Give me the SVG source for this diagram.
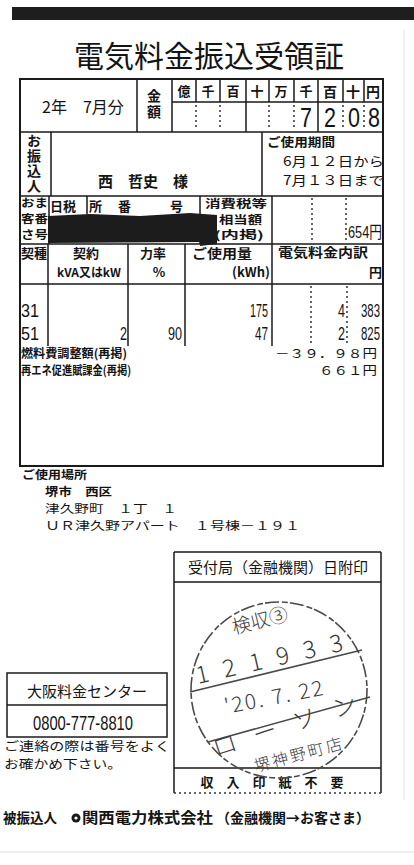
<svg xmlns="http://www.w3.org/2000/svg" width="414" height="865" viewBox="0 0 414 865">
<style>
.ln{stroke:#1a1a1a;stroke-width:1.5;fill:none}
.bd{stroke:#1a1a1a;stroke-width:2;fill:none}
.dt{stroke:#333;stroke-width:1.5;stroke-dasharray:2 3;fill:none}
.jp{font-family:"Noto Sans CJK JP","Noto Sans",sans-serif;fill:#141414}
.b{font-weight:700}
.num{font-family:"Liberation Sans","Noto Sans CJK JP",sans-serif;fill:#141414}
.vt{writing-mode:vertical-rl}
.st{fill:none;stroke:#4a4a4a;stroke-width:1.6}
.stt{font-family:"Noto Sans CJK JP",sans-serif;fill:#3a3a3a;font-weight:300}
</style>
<rect width="414" height="865" fill="#fff"/>
<g id="header">
<rect x="12" y="7" width="402" height="13" fill="#1e1e1e"/>
<text class="jp" x="209" y="67" font-size="30" text-anchor="middle">電気料金振込受領証</text>
</g>
<g id="table">
<rect class="bd" x="20" y="79" width="363" height="387"/>
<g class="ln">
<path d="M137 79V132M172 79V132M172 102H383M20 132H383M20 196H383M20 244H383M20 284H383"/>
<path d="M196 79V102M220 79V102M246 79V132M269 79V102M294 79V102M318 79V132M343 79V102M364 79V102"/>
<path d="M51 132V196M262 132V196M49 196V244M87 196V214M200 196V244M272 196V346M48 244V346M128 244V346M185 244V346"/>
</g>
<g class="dt">
<path d="M196 105V130M220 105V130M269 105V130M294 105V130M343 105V130M364 105V130"/>
<path d="M312 198V242M346 198V242M311 286V346M347 286V346"/>
</g>
<text class="jp" x="42" y="113" font-size="16">2年　7月分</text>
<text class="jp b vt" x="154" y="89" font-size="14" letter-spacing="1.5">金額</text>
<g class="jp b" font-size="13" text-anchor="middle">
<text x="184" y="96">億</text><text x="208" y="96">千</text><text x="233" y="96">百</text><text x="257" y="96">十</text><text x="281" y="96">万</text><text x="306" y="96">千</text>
<text x="330" y="97" font-size="14">百</text><text x="353" y="97" font-size="14">十</text><text x="373" y="97" font-size="14">円</text>
</g>
<g class="num" font-size="27" text-anchor="middle">
<text x="306" y="127" textLength="12" lengthAdjust="spacingAndGlyphs">7</text>
<text x="330" y="127" textLength="12" lengthAdjust="spacingAndGlyphs">2</text>
<text x="354" y="127" textLength="12" lengthAdjust="spacingAndGlyphs">0</text>
<text x="374" y="127" textLength="12" lengthAdjust="spacingAndGlyphs">8</text>
</g>
<text class="jp b vt" x="34" y="134" font-size="14" letter-spacing="1">お振込人</text>
<text class="jp b" x="98" y="187" font-size="15">西　哲史　様</text>
<text class="jp b" x="267" y="147" font-size="12.5" textLength="68" lengthAdjust="spacingAndGlyphs">ご使用期間</text>
<text class="jp" x="283" y="166" font-size="13" textLength="101" lengthAdjust="spacingAndGlyphs">6月１２日から</text>
<text class="jp" x="283" y="185" font-size="13" textLength="101" lengthAdjust="spacingAndGlyphs">7月１３日まで</text>
<g class="jp b" font-size="11">
<text x="21" y="207" textLength="27" lengthAdjust="spacingAndGlyphs">おま</text>
<text x="21" y="223" textLength="27" lengthAdjust="spacingAndGlyphs">客番</text>
<text x="21" y="239" textLength="27" lengthAdjust="spacingAndGlyphs">さ号</text>
<text x="50" y="211" font-size="13">日税</text><text x="89" y="211" font-size="13">所</text><text x="118" y="211" font-size="13">番</text><text x="170" y="211" font-size="13">号</text>
<text x="205" y="208" textLength="62" lengthAdjust="spacingAndGlyphs">消費税等</text>
<text x="219" y="224" textLength="43" lengthAdjust="spacingAndGlyphs">相当額</text>
<text x="214" y="239" textLength="50" lengthAdjust="spacingAndGlyphs">(内掲)</text>
</g>
<path d="M48 216L90 214L140 216L190 213L217 215L217 244L200 246L200 242L48 243Z" fill="#1c1c1c"/>
<text class="num" x="348" y="238" font-size="17" textLength="34" lengthAdjust="spacingAndGlyphs">654円</text>
<g class="jp b" font-size="13">
<text x="21" y="257.5" textLength="26" lengthAdjust="spacingAndGlyphs">契種</text>
<text x="86" y="258" text-anchor="middle">契約</text>
<text x="89" y="277" text-anchor="middle" font-size="12" textLength="64" lengthAdjust="spacingAndGlyphs">kVA又はkW</text>
<text x="153" y="258" text-anchor="middle">力率</text>
<text x="159" y="277" text-anchor="middle">%</text>
<text x="192" y="257.5" font-size="12.8" textLength="60" lengthAdjust="spacingAndGlyphs">ご使用量</text>
<text x="232" y="276.5">(kWh)</text>
<text x="278" y="257" textLength="90" lengthAdjust="spacingAndGlyphs">電気料金内訳</text>
<text x="369" y="277">円</text>
</g>
<g class="num" font-size="18">
<text x="21" y="317" textLength="18" lengthAdjust="spacingAndGlyphs">31</text>
<text x="21" y="339.5" textLength="18" lengthAdjust="spacingAndGlyphs">51</text>
<text x="127" y="339.5" text-anchor="end" textLength="7" lengthAdjust="spacingAndGlyphs">2</text>
<text x="182" y="339.5" text-anchor="end" textLength="14" lengthAdjust="spacingAndGlyphs">90</text>
<text x="268" y="317" text-anchor="end" textLength="18" lengthAdjust="spacingAndGlyphs">175</text>
<text x="268" y="339.5" text-anchor="end" textLength="13" lengthAdjust="spacingAndGlyphs">47</text>
<text x="345" y="317" text-anchor="end" textLength="7" lengthAdjust="spacingAndGlyphs">4</text>
<text x="345" y="339.5" text-anchor="end" textLength="7" lengthAdjust="spacingAndGlyphs">2</text>
<text x="380" y="317" text-anchor="end" textLength="19" lengthAdjust="spacingAndGlyphs">383</text>
<text x="380" y="339.5" text-anchor="end" textLength="19" lengthAdjust="spacingAndGlyphs">825</text>
</g>
<text class="jp b" x="21" y="357.5" font-size="12" textLength="106" lengthAdjust="spacingAndGlyphs">燃料費調整額(再掲)</text>
<text class="jp b" x="21" y="375" font-size="12" textLength="110" lengthAdjust="spacingAndGlyphs">再エネ促進賦課金(再掲)</text>
<text class="jp" x="377" y="357.5" font-size="12" text-anchor="end" textLength="102" lengthAdjust="spacingAndGlyphs">－３９．９８円</text>
<text class="jp" x="377" y="375" font-size="12" text-anchor="end" textLength="58" lengthAdjust="spacingAndGlyphs">６６１円</text>
</g>
<g id="address" class="jp">
<text x="22" y="479" font-size="11.7" class="b" textLength="65" lengthAdjust="spacingAndGlyphs">ご使用場所</text>
<text x="45" y="496" font-size="11.7" class="b" textLength="67" lengthAdjust="spacingAndGlyphs">堺市　西区</text>
<text x="45" y="513" font-size="11.7" textLength="132" lengthAdjust="spacingAndGlyphs">津久野町　１丁　１</text>
<text x="45" y="530" font-size="11.7" textLength="255" lengthAdjust="spacingAndGlyphs">ＵＲ津久野アパート　１号棟－１９１</text>
</g>
<g id="stamp-box">
<path class="ln" d="M174 552H381M174 552V793M381 552V793M174 582H381M174 768H381"/>
<path class="dt" d="M174 793H381"/>
<text class="jp" x="278" y="573" font-size="15" text-anchor="middle">受付局（金融機関）日附印</text>
<text class="jp b" x="272" y="787" font-size="13" text-anchor="middle">収　入　印　紙　不　要</text>
</g>
<g id="postmark">
<circle class="st" cx="279" cy="690" r="88" stroke-dasharray="14 3 6 2"/>
<path class="st" d="M190 692L362 650M208 742L370 697"/>
<text class="stt" x="234" y="634" font-size="19" transform="rotate(-14 234 634)">検収③</text>
<text class="stt" x="198" y="684" font-size="24" transform="rotate(-13 198 684)" textLength="150" lengthAdjust="spacing">121933</text>
<text class="stt" x="226" y="714" font-size="21" transform="rotate(-11 226 714)" textLength="100" lengthAdjust="spacing">'20. 7. 22</text>
<text class="stt" x="216" y="757" font-size="24" transform="rotate(-18 216 757)" textLength="150" lengthAdjust="spacing">ローソン</text>
<text class="stt" x="256" y="772" font-size="16" transform="rotate(-15 256 772)" textLength="90" lengthAdjust="spacing">堺神野町店</text>
</g>
<g id="center-box">
<rect class="ln" x="7" y="673" width="160" height="64"/>
<path class="ln" d="M7 705H167"/>
<text class="jp" x="87" y="697" font-size="15" text-anchor="middle">大阪料金センター</text>
<text class="num" x="83" y="730" font-size="20" text-anchor="middle" textLength="100" lengthAdjust="spacingAndGlyphs">0800-777-8810</text>
<text class="jp" x="4" y="751" font-size="12.4" textLength="166" lengthAdjust="spacingAndGlyphs">ご連絡の際は番号をよく</text>
<text class="jp" x="4" y="769" font-size="12.4" textLength="118" lengthAdjust="spacingAndGlyphs">お確かめ下さい。</text>
</g>
<g id="footer">
<text class="jp b" x="3" y="823" font-size="13.5">被振込人</text>
<circle cx="76" cy="818" r="4.5" fill="#1a1a1a"/>
<circle cx="76" cy="818" r="1.6" fill="#fff"/>
<text class="jp b" x="82" y="823" font-size="15" textLength="131" lengthAdjust="spacingAndGlyphs">関西電力株式会社</text>
<text class="jp b" x="216" y="823" font-size="14" textLength="154" lengthAdjust="spacingAndGlyphs">（金融機関→お客さま）</text>
</g>
<path d="M404 30V800M0 852H414" stroke="#ececec" stroke-width="1.5"/>
</svg>
